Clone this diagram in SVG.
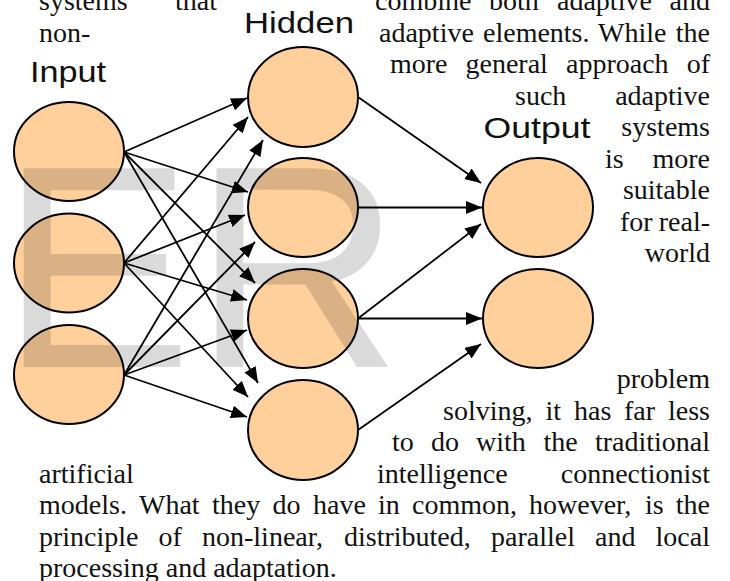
<svg xmlns="http://www.w3.org/2000/svg" width="730" height="581" viewBox="0 0 730 581">
<defs>
<marker id="ah" markerUnits="userSpaceOnUse" markerWidth="16" markerHeight="13" refX="16" refY="6.5" orient="auto">
<path d="M0,0 L16,6.5 L0,13 z" fill="#000"/>
</marker>
<style>
.node ellipse{fill:#FFD09C;stroke:#000;stroke-width:2}
.conn line{stroke:#000;stroke-width:1.8;marker-end:url(#ah)}
.lbl{font-family:"Liberation Sans",Arial,sans-serif;font-size:29px;fill:#111}
.t{font-family:"Liberation Serif","Times New Roman",serif;font-size:28px;fill:#111}
.e{text-anchor:end}
.wm{font-family:"Liberation Sans",Arial,sans-serif;font-size:289px;fill:#000;fill-opacity:0.145}
</style>
</defs>
<rect width="730" height="581" fill="#fff"/>
<g id="connectors" class="conn">
<line x1="124" y1="152" x2="247" y2="98"/>
<line x1="124" y1="152" x2="248" y2="192"/>
<line x1="124" y1="152" x2="255" y2="283"/>
<line x1="124" y1="152" x2="258" y2="383"/>
<line x1="124" y1="263" x2="248" y2="117"/>
<line x1="124" y1="263" x2="245" y2="215"/>
<line x1="124" y1="263" x2="247" y2="300"/>
<line x1="124" y1="263" x2="248" y2="397"/>
<line x1="124" y1="375" x2="263" y2="140"/>
<line x1="124" y1="375" x2="255" y2="242"/>
<line x1="124" y1="375" x2="247" y2="330"/>
<line x1="124" y1="375" x2="247" y2="417"/>
<line x1="358" y1="97" x2="481" y2="183"/>
<line x1="358" y1="207.5" x2="482" y2="207.5"/>
<line x1="358" y1="318.5" x2="481" y2="224"/>
<line x1="358" y1="318.5" x2="482" y2="318.5"/>
<line x1="358" y1="430" x2="481" y2="344"/>
</g>
<g id="input1" class="node"><ellipse cx="69" cy="151.5" rx="55" ry="49.5"/></g>
<g id="input2" class="node"><ellipse cx="69" cy="263" rx="55" ry="49.5"/></g>
<g id="input3" class="node"><ellipse cx="69" cy="374.5" rx="55" ry="49.5"/></g>
<g id="hidden1" class="node"><ellipse cx="303" cy="97" rx="55" ry="50"/></g>
<g id="hidden2" class="node"><ellipse cx="303" cy="207.5" rx="55" ry="49.5"/></g>
<g id="hidden3" class="node"><ellipse cx="303" cy="318.5" rx="55" ry="49.5"/></g>
<g id="hidden4" class="node"><ellipse cx="303" cy="430" rx="55" ry="50"/></g>
<g id="output1" class="node"><ellipse cx="538" cy="207.5" rx="55" ry="49.5"/></g>
<g id="output2" class="node"><ellipse cx="538" cy="318.5" rx="55" ry="49.5"/></g>
<text class="wm" x="0" y="367">ER</text>
<g id="labels">
<text class="lbl" x="30" y="82" textLength="76" lengthAdjust="spacingAndGlyphs">Input</text>
<text class="lbl" x="244" y="33" textLength="110" lengthAdjust="spacingAndGlyphs">Hidden</text>
<text class="lbl" x="483.5" y="138" textLength="107" lengthAdjust="spacingAndGlyphs">Output</text>
</g>
<g id="paragraph" class="t">
<text x="39" y="10">systems</text><text x="175" y="10">that</text>
<text x="375" y="10">combine</text><text x="489" y="10">both</text><text x="557" y="10">adaptive</text><text class="e" x="710" y="10">and</text>
<text x="39" y="41.5">non-</text>
<text x="379" y="41.5">adaptive</text><text x="483" y="41.5">elements.</text><text x="598" y="41.5">While</text><text class="e" x="710" y="41.5">the</text>
<text x="390" y="73">more</text><text x="465.5" y="73">general</text><text x="566" y="73">approach</text><text class="e" x="710" y="73">of</text>
<text x="515" y="104.5">such</text><text class="e" x="710" y="104.5">adaptive</text>
<text class="e" x="710" y="136">systems</text>
<text x="605" y="167.5">is</text><text class="e" x="710" y="167.5">more</text>
<text class="e" x="710" y="199">suitable</text>
<text x="620" y="230.5">for</text><text class="e" x="710" y="230.5">real-</text>
<text class="e" x="710" y="262">world</text>
<text class="e" x="710" y="388">problem</text>
<text x="443" y="419.5">solving,</text><text x="545.5" y="419.5">it</text><text x="574" y="419.5">has</text><text x="624" y="419.5">far</text><text class="e" x="710" y="419.5">less</text>
<text x="392" y="451">to</text><text x="431" y="451">do</text><text x="476" y="451">with</text><text x="543.5" y="451">the</text><text class="e" x="710" y="451">traditional</text>
<text x="39" y="482.5">artificial</text><text x="377" y="482.5">intelligence</text><text class="e" x="710" y="482.5">connectionist</text>
<text x="39" y="514">models.</text><text x="139" y="514">What</text><text x="212" y="514">they</text><text x="272.5" y="514">do</text><text x="313" y="514">have</text><text x="378" y="514">in</text><text x="412" y="514">common,</text><text x="529" y="514">however,</text><text x="645" y="514">is</text><text class="e" x="710" y="514">the</text>
<text x="39" y="545.5">principle</text><text x="158.5" y="545.5">of</text><text x="202" y="545.5">non-linear,</text><text x="344" y="545.5">distributed,</text><text x="491" y="545.5">parallel</text><text x="595" y="545.5">and</text><text class="e" x="710" y="545.5">local</text>
<text x="39" y="577">processing and adaptation.</text>
</g>
</svg>
